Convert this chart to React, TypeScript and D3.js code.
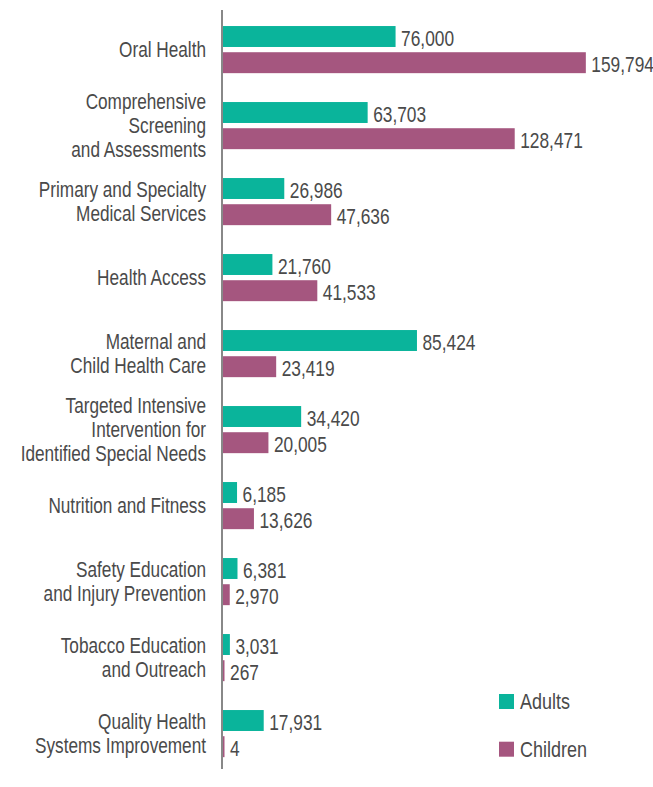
import React from "react";
import * as d3 from "d3";

// categories, split into the lines shown on the left
const categories = [
  "Oral Health",
  "Comprehensive Screening and Assessments",
  "Primary and Specialty Medical Services",
  "Health Access",
  "Maternal and Child Health Care",
  "Targeted Intensive Intervention for Identified Special Needs",
  "Nutrition and Fitness",
  "Safety Education and Injury Prevention",
  "Tobacco Education and Outreach",
  "Quality Health Systems Improvement",
];
const categoryLines = [
  ["Oral Health"],
  ["Comprehensive", "Screening", "and Assessments"],
  ["Primary and Specialty", "Medical Services"],
  ["Health Access"],
  ["Maternal and", "Child Health Care"],
  ["Targeted Intensive", "Intervention for", "Identified Special Needs"],
  ["Nutrition and Fitness"],
  ["Safety Education", "and Injury Prevention"],
  ["Tobacco Education", "and Outreach"],
  ["Quality Health", "Systems Improvement"],
];
const adults = [76000, 63703, 26986, 21760, 85424, 34420, 6185, 6381, 3031, 17931];
const children = [159794, 128471, 47636, 41533, 23419, 20005, 13626, 2970, 267, 4];
const seriesNames = ["Adults", "Children"];

const colors: Record<string, string> = { Adults: "#0ab49b", Children: "#a5567f" };
const textColor = "#4a4a4a";
const font = "'Liberation Sans', Arial, sans-serif";
// no condensed face installed, so squeeze the glyphs horizontally
const squeeze = 0.8;
const valueSqueeze = 0.77;

const width = 653,
  height = 787;
const axisX = 222;

export default function App() {
  const y0 = d3
    .scaleBand<string>()
    .domain(categories)
    .range([11.6, 771.6])
    .paddingInner(0.38)
    .paddingOuter(0.19);
  const y1 = d3
    .scaleBand<string>()
    .domain(seriesNames)
    .range([0, y0.bandwidth()])
    .paddingInner(0.2);
  const x = d3.scaleLinear().domain([0, 160000]).range([axisX + 1, 586.3]);
  const fmt = d3.format(",");

  const rows = categories.map((c, i) => ({
    name: c,
    lines: categoryLines[i],
    vals: [
      { name: "Adults", value: adults[i] },
      { name: "Children", value: children[i] },
    ],
  }));

  const lineH = 24;
  const valueSize = 22.5;

  return (
    <svg
      width={width}
      height={height}
      style={{ position: "absolute", left: 0, top: 0, background: "#fff" }}
      fontFamily={font}
    >
      {rows.map((r) => {
        const top = y0(r.name)!;
        const mid = top + y0.bandwidth() / 2;
        const n = r.lines.length;
        return (
          <g key={r.name}>
            {r.lines.map((ln, k) => (
              <text
                key={k}
                transform={`translate(206, ${mid + 7.8 + (k - (n - 1) / 2) * lineH}) scale(${squeeze}, 1)`}
                textAnchor="end"
                fill={textColor}
                fontSize={21.5}
              >
                {ln}
              </text>
            ))}
            {r.vals.map((v) => {
              const by = top + y1(v.name)!;
              const w = Math.max(x(v.value) - x(0), 1.5);
              return (
                <g key={v.name}>
                  <rect x={x(0)} y={by} width={w} height={y1.bandwidth()} fill={colors[v.name]} />
                  <text
                    transform={`translate(${x(0) + w + 5.5}, ${by + y1.bandwidth() / 2 + valueSize * 0.36 + 1}) scale(${valueSqueeze}, 1)`}
                    fill={textColor}
                    fontSize={valueSize}
                  >
                    {fmt(v.value)}
                  </text>
                </g>
              );
            })}
          </g>
        );
      })}
      <line x1={axisX} x2={axisX} y1={10} y2={769} stroke="#888" strokeWidth={2} />
      {seriesNames.map((s, i) => (
        <g key={s} transform={`translate(499, ${694 + i * 47.7})`}>
          <rect width={15} height={15} fill={colors[s]} />
          <text transform={`translate(21, 15) scale(${squeeze}, 1)`} fill={textColor} fontSize={22.5}>
            {s}
          </text>
        </g>
      ))}
    </svg>
  );
}
